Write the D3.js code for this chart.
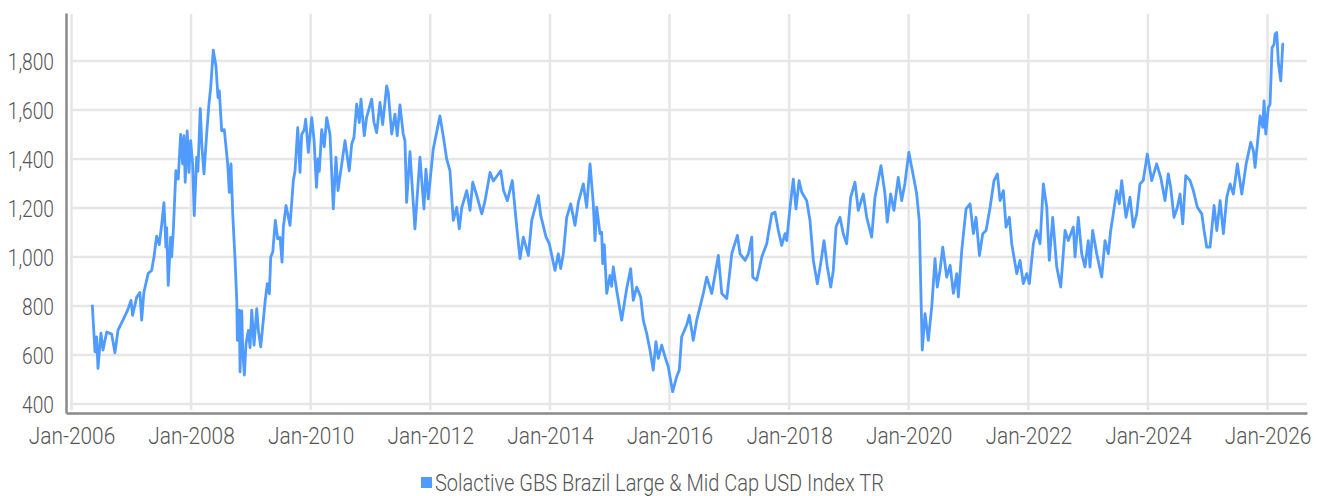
<!DOCTYPE html>
<html>
<head>
<meta charset="utf-8">
<script src="https://cdn.jsdelivr.net/npm/d3@7"></script>
<style>
  body { margin: 0; background: #fff; }
  svg text { font-family: Roboto, "DejaVu Sans Condensed", sans-serif; font-weight: 300; fill: #555; }
</style>
</head>
<body>
<div id="chart"></div>
<script>
// index level (decimal year -> value)
const years = [
  2006.348, 2006.393, 2006.421, 2006.443, 2006.493, 2006.527, 2006.589, 2006.672, 2006.727, 2006.778,
  2006.861, 2006.940, 2006.995, 2007.023, 2007.090, 2007.145, 2007.174, 2007.212, 2007.284, 2007.341,
  2007.380, 2007.425, 2007.468, 2007.508, 2007.547, 2007.580, 2007.592, 2007.619, 2007.659, 2007.676,
  2007.702, 2007.747, 2007.786, 2007.826, 2007.860, 2007.881, 2007.903, 2007.936, 2007.965, 2007.993,
  2008.027, 2008.054, 2008.094, 2008.115, 2008.154, 2008.182, 2008.216, 2008.261, 2008.299, 2008.328,
  2008.371, 2008.416, 2008.450, 2008.472, 2008.512, 2008.555, 2008.612, 2008.639, 2008.667, 2008.696,
  2008.734, 2008.763, 2008.773, 2008.806, 2008.818, 2008.846, 2008.863, 2008.890, 2008.918, 2008.957,
  2008.985, 2009.013, 2009.052, 2009.097, 2009.124, 2009.164, 2009.236, 2009.274, 2009.308, 2009.331,
  2009.365, 2009.408, 2009.448, 2009.487, 2009.520, 2009.542, 2009.587, 2009.654, 2009.709, 2009.737,
  2009.783, 2009.821, 2009.849, 2009.893, 2009.916, 2009.960, 2010.017, 2010.055, 2010.097, 2010.122,
  2010.144, 2010.184, 2010.227, 2010.268, 2010.323, 2010.378, 2010.423, 2010.457, 2010.574, 2010.645,
  2010.686, 2010.724, 2010.769, 2010.813, 2010.841, 2010.896, 2010.936, 2011.020, 2011.058, 2011.104,
  2011.159, 2011.204, 2011.271, 2011.298, 2011.355, 2011.410, 2011.448, 2011.493, 2011.548, 2011.577,
  2011.605, 2011.661, 2011.744, 2011.828, 2011.895, 2011.928, 2011.967, 2012.050, 2012.162, 2012.229,
  2012.274, 2012.329, 2012.385, 2012.441, 2012.485, 2012.525, 2012.609, 2012.664, 2012.709, 2012.776,
  2012.860, 2012.915, 2012.998, 2013.054, 2013.177, 2013.224, 2013.288, 2013.371, 2013.445, 2013.500,
  2013.555, 2013.639, 2013.696, 2013.806, 2013.846, 2013.935, 2013.990, 2014.085, 2014.140, 2014.181,
  2014.224, 2014.281, 2014.348, 2014.420, 2014.475, 2014.559, 2014.615, 2014.671, 2014.726, 2014.754,
  2014.783, 2014.838, 2014.866, 2014.883, 2014.910, 2014.950, 2015.005, 2015.033, 2015.060, 2015.117,
  2015.201, 2015.284, 2015.351, 2015.395, 2015.452, 2015.518, 2015.562, 2015.619, 2015.674, 2015.729,
  2015.774, 2015.813, 2015.870, 2015.925, 2015.980, 2016.054, 2016.120, 2016.164, 2016.204, 2016.288,
  2016.331, 2016.398, 2016.455, 2016.510, 2016.565, 2016.622, 2016.706, 2016.816, 2016.873, 2016.957,
  2017.040, 2017.134, 2017.179, 2017.263, 2017.318, 2017.375, 2017.391, 2017.458, 2017.542, 2017.625,
  2017.709, 2017.764, 2017.819, 2017.876, 2017.931, 2017.960, 2018.015, 2018.070, 2018.115, 2018.166,
  2018.211, 2018.294, 2018.349, 2018.405, 2018.472, 2018.528, 2018.584, 2018.639, 2018.696, 2018.739,
  2018.784, 2018.851, 2018.906, 2018.963, 2019.030, 2019.102, 2019.157, 2019.241, 2019.298, 2019.381,
  2019.437, 2019.537, 2019.604, 2019.642, 2019.699, 2019.754, 2019.826, 2019.883, 2019.936, 2020.003,
  2020.050, 2020.104, 2020.134, 2020.177, 2020.201, 2020.227, 2020.273, 2020.328, 2020.385, 2020.440,
  2020.478, 2020.523, 2020.569, 2020.635, 2020.692, 2020.746, 2020.803, 2020.829, 2020.886, 2020.958,
  2021.025, 2021.080, 2021.125, 2021.181, 2021.237, 2021.293, 2021.360, 2021.426, 2021.482, 2021.527,
  2021.582, 2021.627, 2021.682, 2021.722, 2021.806, 2021.861, 2021.916, 2021.973, 2022.017, 2022.084,
  2022.140, 2022.196, 2022.251, 2022.308, 2022.351, 2022.408, 2022.475, 2022.542, 2022.614, 2022.669,
  2022.753, 2022.781, 2022.836, 2022.893, 2022.948, 2023.003, 2023.031, 2023.076, 2023.144, 2023.227,
  2023.283, 2023.338, 2023.378, 2023.421, 2023.478, 2023.522, 2023.562, 2023.634, 2023.701, 2023.756,
  2023.813, 2023.868, 2023.923, 2023.990, 2024.064, 2024.147, 2024.214, 2024.286, 2024.341, 2024.381,
  2024.436, 2024.492, 2024.537, 2024.582, 2024.632, 2024.704, 2024.759, 2024.826, 2024.900, 2024.938,
  2024.983, 2025.038, 2025.105, 2025.151, 2025.206, 2025.261, 2025.318, 2025.373, 2025.428, 2025.495,
  2025.569, 2025.642, 2025.719, 2025.763, 2025.791, 2025.846, 2025.875, 2025.920, 2025.941, 2025.970,
  2026.013, 2026.042, 2026.075, 2026.109, 2026.125, 2026.154, 2026.181, 2026.221, 2026.254, 2026.276
];
const values = [
  805, 613, 674, 545, 689, 620, 694, 685, 609, 701,
  742, 783, 823, 762, 835, 855, 742, 857, 933, 945,
  1000, 1085, 1050, 1130, 1222, 1040, 1120, 884, 1080, 1000,
  1100, 1352, 1318, 1500, 1380, 1495, 1305, 1515, 1345, 1475,
  1380, 1169, 1407, 1350, 1606, 1450, 1339, 1502, 1624, 1691,
  1844, 1780, 1651, 1678, 1515, 1520, 1380, 1264, 1380, 1176,
  993, 823, 660, 783, 531, 780, 620, 518, 647, 700,
  630, 783, 640, 789, 700, 633, 816, 891, 850, 1000,
  1020, 1149, 1074, 1080, 979, 1120, 1210, 1129, 1312, 1350,
  1528, 1345, 1500, 1520, 1563, 1427, 1569, 1480, 1284, 1400,
  1350, 1520, 1450, 1569, 1500, 1196, 1407, 1271, 1475, 1352,
  1461, 1488, 1624, 1549, 1644, 1495, 1570, 1644, 1550, 1508,
  1631, 1540, 1698, 1671, 1502, 1583, 1495, 1621, 1502, 1475,
  1223, 1430, 1115, 1407, 1196, 1359, 1237, 1440, 1576, 1475,
  1400, 1352, 1149, 1203, 1115, 1200, 1271, 1190, 1305, 1251,
  1176, 1230, 1345, 1310, 1352, 1271, 1230, 1312, 1122, 993,
  1081, 1006, 1149, 1251, 1170, 1081, 1054, 945, 1013, 953,
  1013, 1162, 1217, 1129, 1223, 1298, 1203, 1380, 1217, 1067,
  1203, 1095, 1101, 973, 1050, 851, 925, 880, 959, 864,
  742, 870, 952, 823, 877, 837, 742, 688, 620, 538,
  654, 586, 640, 593, 552, 450, 511, 538, 674, 722,
  762, 660, 742, 796, 851, 918, 851, 1006, 851, 830,
  1013, 1088, 1013, 986, 1013, 1081, 918, 905, 1000, 1054,
  1176, 1183, 1108, 1047, 1095, 1067, 1203, 1318, 1196, 1312,
  1264, 1230, 1149, 986, 891, 973, 1067, 959, 877, 945,
  1122, 1162, 1095, 1054, 1244, 1305, 1190, 1257, 1162, 1081,
  1244, 1373, 1257, 1142, 1257, 1190, 1325, 1230, 1298, 1427,
  1366, 1298, 1257, 1149, 891, 620, 769, 660, 796, 993,
  877, 945, 1040, 918, 966, 851, 932, 837, 1027, 1196,
  1217, 1095, 1162, 1006, 1095, 1108, 1203, 1312, 1339, 1230,
  1271, 1122, 1162, 1054, 932, 986, 891, 932, 891, 1054,
  1108, 1054, 1298, 1203, 986, 1162, 959, 877, 1108, 1067,
  1122, 1000, 1162, 1013, 959, 1067, 959, 1108, 1013, 918,
  1067, 1013, 1108, 1176, 1271, 1217, 1312, 1162, 1244, 1122,
  1176, 1298, 1312, 1420, 1312, 1380, 1325, 1230, 1339, 1284,
  1162, 1203, 1257, 1135, 1332, 1312, 1271, 1203, 1176, 1108,
  1040, 1040, 1210, 1108, 1230, 1095, 1244, 1298, 1257, 1380,
  1257, 1380, 1468, 1434, 1366, 1502, 1576, 1529, 1637, 1502,
  1610, 1624, 1854, 1868, 1909, 1916, 1793, 1719, 1868, 1870
];
const yTicks = [400, 600, 800, 1000, 1200, 1400, 1600, 1800];
const seriesName = "Solactive GBS Brazil Large & Mid Cap USD Index TR";

const lineColor = "#4f9bff";
const width = 1324, height = 496;

// decimal year to a Date
function toDate(y) {
    const yr = Math.floor(y);
    const a = new Date(yr, 0, 1), b = new Date(yr + 1, 0, 1);
    return new Date(+a + (y - yr) * (b - a));
}

const data = years.map((y, i) => ({date: toDate(y), value: values[i]}));

const svg = d3.select("#chart").append("svg")
    .attr("width", width)
    .attr("height", height);

const x = d3.scaleTime()
    .domain([toDate(2005.908), toDate(2026.66)])
    .range([66, 1307]);

const y = d3.scaleLinear()
    .domain([363, 1996])
    .range([413, 13]);

const xTicks = d3.timeYear.every(2).range(new Date(2006, 0, 1), new Date(2026, 0, 2));

// grid
svg.append("g").selectAll("line.hgrid")
    .data(yTicks)
    .enter().append("line")
    .attr("class", "hgrid")
    .attr("x1", 70).attr("x2", 1307)
    .attr("y1", d => y(d)).attr("y2", d => y(d))
    .attr("stroke", "#e6e6e6")
    .attr("stroke-width", 2.5);

svg.append("g").selectAll("line.vgrid")
    .data(xTicks)
    .enter().append("line")
    .attr("class", "vgrid")
    .attr("x1", d => x(d)).attr("x2", d => x(d))
    .attr("y1", 14).attr("y2", 410)
    .attr("stroke", "#e6e6e6")
    .attr("stroke-width", 2.5);

// axes (the source font is a condensed face, so the text is squeezed a bit)
const yAxis = d3.axisLeft(y).tickValues(yTicks).tickSize(0).tickPadding(15)
    .tickFormat(d3.format(","));
const yg = svg.append("g").attr("transform", "translate(66,0)").call(yAxis);
yg.select(".domain").attr("stroke", "#8a8a8a").attr("stroke-width", 2.5);
yg.selectAll("text").style("font-size", "24px").attr("dy", "0.35em")
    .attr("transform", "scale(0.8,1)");

const xAxis = d3.axisBottom(x).tickValues(xTicks).tickSize(0).tickPadding(14)
    .tickFormat(d3.timeFormat("%b-%Y"));
const xg = svg.append("g").attr("transform", "translate(0,413)").call(xAxis);
xg.select(".domain").attr("stroke", "#8a8a8a").attr("stroke-width", 2.5);
xg.selectAll("text").style("font-size", "24px").attr("transform", "scale(0.87,1)");

// line
const line = d3.line()
    .x(d => x(d.date))
    .y(d => y(d.value));

svg.append("path")
    .datum(data)
    .attr("fill", "none")
    .attr("stroke", lineColor)
    .attr("stroke-width", 2.8)
    .attr("stroke-linejoin", "round")
    .attr("d", line);

// legend
const legend = svg.append("g").attr("transform", "translate(421,477)");
legend.append("rect")
    .attr("width", 11).attr("height", 11)
    .attr("fill", lineColor);
legend.append("g")
    .attr("transform", "translate(14,14) scale(0.835,1)")
    .append("text")
    .style("font-size", "24px")
    .text(seriesName);
</script>
</body>
</html>
